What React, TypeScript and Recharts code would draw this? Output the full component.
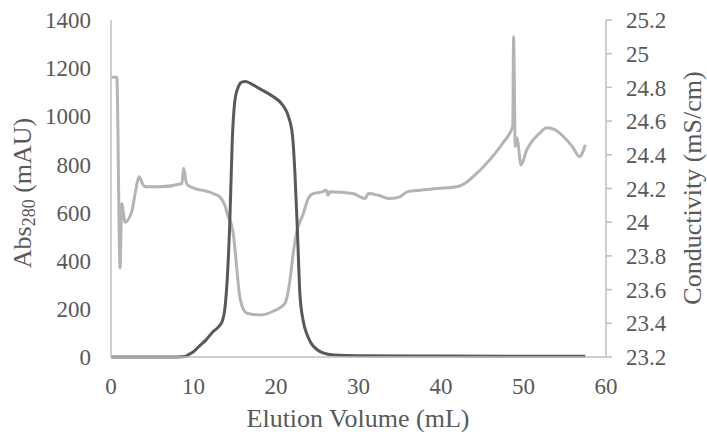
import React from "react";
import { LineChart, Line, XAxis, YAxis } from "recharts";

// Abs280 trace (mL, mAU)
const absVolume = [
  0, 8, 9, 9.5, 10, 10.7, 11.5, 12.3, 13.1, 13.5, 13.8, 14.1, 14.4, 14.7, 15.0,
  15.4, 15.9, 16.3, 17, 18, 19.5, 20.8, 21.5, 22, 22.3, 22.6, 22.9, 23.3, 23.8,
  24.2, 25, 25.7, 27, 30, 40, 57.5,
];
const absValues = [
  0, 0, 2, 12, 22, 45, 70, 103, 128, 150, 200, 330, 560, 900, 1060, 1120, 1143,
  1145, 1135, 1115, 1085, 1047, 1000, 920, 760, 520, 260, 150, 90, 60, 30, 17, 8,
  5, 4, 3,
];

// conductivity trace (mL, mS/cm)
const condVolume = [
  0, 0.7, 1.1, 1.3, 1.7, 2.5, 3.0, 3.4, 3.9, 4.2, 5.9, 8.6, 8.8, 9.1, 9.3, 12.4,
  13.2, 13.8, 14.1, 14.8, 15.2, 15.6, 15.9, 16.5, 18.1, 19.6, 21.1, 21.4, 21.7,
  22.1, 22.5, 23.3, 23.9, 24.5, 25.6, 26.1, 26.3, 26.5, 29.3, 30.8, 31.2, 32.4,
  33.8, 35, 35.9, 37.5, 39.5, 41.9, 42.9, 43.9, 45.9, 47.5, 48.7, 48.8, 49.0,
  49.2, 49.7, 50.4, 51.2, 52, 52.8, 53.8, 54.8, 55.9, 56.8, 57.5,
];
const condValues = [
  24.86, 24.86, 23.73, 24.11, 24.0, 24.06, 24.19, 24.27, 24.22, 24.21, 24.21,
  24.23, 24.32, 24.24, 24.22, 24.17, 24.15, 24.1, 24.05, 23.94, 23.75, 23.56,
  23.5, 23.46, 23.45, 23.47, 23.52, 23.57, 23.66, 23.82, 23.94, 24.05, 24.14,
  24.17, 24.18, 24.19, 24.16, 24.18, 24.17, 24.14, 24.17, 24.16, 24.14, 24.15,
  24.18, 24.19, 24.2, 24.21, 24.23, 24.27, 24.37, 24.47, 24.57, 25.1, 24.45,
  24.5, 24.34, 24.43, 24.49, 24.53, 24.56, 24.55, 24.51, 24.45, 24.39, 24.46,
];

const xTicks = [0, 10, 20, 30, 40, 50, 60];
const absTicks = [0, 200, 400, 600, 800, 1000, 1200, 1400];
const condTicks = [23.2, 23.4, 23.6, 23.8, 24, 24.2, 24.4, 24.6, 24.8, 25, 25.2];

const absData = absVolume.map((v, i) => ({ vol: v, abs: absValues[i] }));
const condData = condVolume.map((v, i) => ({ vol: v, cond: condValues[i] }));

const font = "Liberation Serif, Tinos, Times New Roman, DejaVu Serif, serif";
const textColor = "#595959";
const axisColor = "#bfbfbf";

const tickStyle = { fontSize: 23, fill: textColor, fontFamily: font };
const titleStyle = { fontFamily: font, fontSize: 26, fill: textColor };

const App = () => {
  return (
    <div
      style={{
        position: "absolute",
        left: 0,
        top: 0,
        background: "#fff",
        fontFamily: font,
      }}
    >
      <LineChart
        width={707}
        height={436}
        margin={{ top: 20, right: 0, bottom: 0, left: 0 }}
        style={{ fontFamily: font }}
      >
        <XAxis
          dataKey="vol"
          type="number"
          domain={[0, 60]}
          ticks={xTicks}
          allowDuplicatedCategory={false}
          height={79}
          tickLine={false}
          tickSize={0}
          tickMargin={21}
          axisLine={{ stroke: axisColor, strokeWidth: 1.5 }}
          tick={tickStyle}
          label={{
            content: () => (
              <text x={358} y={427} textAnchor="middle" style={titleStyle}>
                Elution Volume (mL)
              </text>
            ),
          }}
        />
        <YAxis
          yAxisId="abs"
          orientation="left"
          domain={[0, 1400]}
          ticks={absTicks}
          width={111}
          tickLine={false}
          tickSize={0}
          tickMargin={20}
          axisLine={{ stroke: axisColor, strokeWidth: 1.5 }}
          tick={tickStyle}
          label={{
            content: () => (
              <text
                x={31}
                y={193}
                transform="rotate(-90, 31, 193)"
                textAnchor="middle"
                style={titleStyle}
              >
                <tspan>Abs</tspan>
                <tspan dy={4} style={{ fontSize: 18 }}>
                  280
                </tspan>
                <tspan dy={-4}> (mAU)</tspan>
              </text>
            ),
          }}
        />
        <YAxis
          yAxisId="cond"
          orientation="right"
          domain={[23.2, 25.2]}
          ticks={condTicks}
          width={101}
          tickSize={6}
          tickMargin={14}
          tickLine={{ stroke: axisColor, strokeWidth: 1.5 }}
          axisLine={{ stroke: axisColor, strokeWidth: 1.5 }}
          tick={tickStyle}
          tickFormatter={(v: number) => String(Number(v.toFixed(1)))}
          label={{
            content: () => (
              <text
                x={701}
                y={188}
                transform="rotate(-90, 701, 188)"
                textAnchor="middle"
                style={titleStyle}
              >
                Conductivity (mS/cm)
              </text>
            ),
          }}
        />
        <Line
          yAxisId="cond"
          data={condData}
          dataKey="cond"
          type="monotone"
          stroke="#b4b4b4"
          strokeWidth={3}
          dot={false}
          isAnimationActive={false}
        />
        <Line
          yAxisId="abs"
          data={absData}
          dataKey="abs"
          type="monotone"
          stroke="#595959"
          strokeWidth={3}
          dot={false}
          isAnimationActive={false}
        />
      </LineChart>
    </div>
  );
};

export default App;
